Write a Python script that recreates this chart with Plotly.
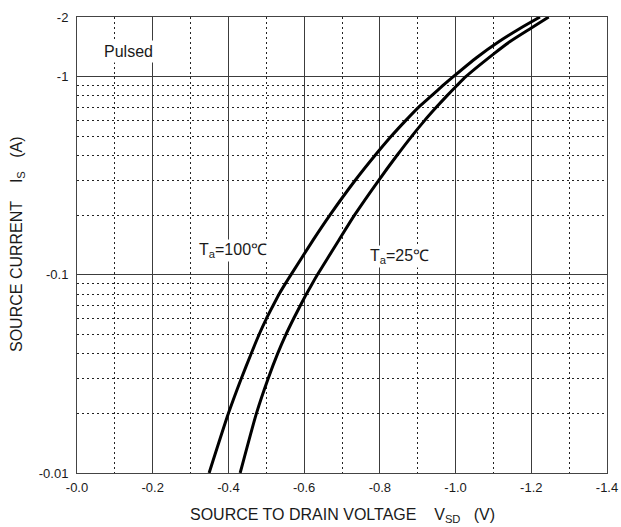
import math
import plotly.graph_objects as go

# ---- data ----
# source current magnitude |Is| (A) and source-drain voltage VSD (V, negative as on the chart)
is_100 = [0.01, 0.02, 0.03, 0.04, 0.05, 0.06, 0.07, 0.08, 0.09, 0.1,
          0.15, 0.2, 0.3, 0.4, 0.5, 0.6, 0.7, 0.8, 0.9, 1.0, 1.25, 1.5, 1.75, 2.0]
vsd_100 = [-0.349, -0.400, -0.434, -0.460, -0.481, -0.500, -0.518, -0.534, -0.550, -0.565,
           -0.624, -0.668, -0.735, -0.787, -0.830, -0.868, -0.902, -0.936, -0.966, -0.994,
           -1.056, -1.114, -1.170, -1.223]

is_25 = [0.01, 0.02, 0.03, 0.04, 0.05, 0.06, 0.07, 0.08, 0.09, 0.1,
         0.15, 0.2, 0.3, 0.4, 0.5, 0.6, 0.7, 0.8, 0.9, 1.0, 1.3, 1.5, 1.76, 2.0]
vsd_25 = [-0.431, -0.474, -0.505, -0.530, -0.552, -0.572, -0.590, -0.606, -0.621, -0.635,
          -0.692, -0.733, -0.797, -0.845, -0.884, -0.918, -0.949, -0.977, -1.003, -1.027,
          -1.100, -1.143, -1.200, -1.246]

x_ticks = [0.0, -0.2, -0.4, -0.6, -0.8, -1.0, -1.2, -1.4]
x_ticktext = ["-0.0", "-0.2", "-0.4", "-0.6", "-0.8", "-1.0", "-1.2", "-1.4"]
x_minor = [-0.1, -0.3, -0.5, -0.7, -0.9, -1.1, -1.3]

y_ticks = [0.01, 0.1, 1, 2]
y_ticktext = ["-0.01", "-0.1", "-1", "-2"]
y_minor = [0.02, 0.03, 0.04, 0.05, 0.06, 0.07, 0.08, 0.09,
           0.2, 0.3, 0.4, 0.5, 0.6, 0.7, 0.8, 0.9]

FONT = "Arial, 'Liberation Sans', sans-serif"
TXT = "#1a1a1a"
NB = "\u00a0"

fig = go.Figure()
for xs, ys in ((vsd_100, is_100), (vsd_25, is_25)):
    fig.add_trace(go.Scatter(x=xs, y=ys, mode="lines",
                             line=dict(color="black", width=3, shape="spline", smoothing=0.6),
                             showlegend=False, hoverinfo="skip"))

grid_major = "#3c3c3c"
minor_style = dict(showgrid=True, gridcolor="#222222", gridwidth=1, griddash="2px,3px", ticks="")

fig.update_xaxes(range=[0, -1.4], tickmode="array", tickvals=x_ticks, ticktext=x_ticktext,
                 showgrid=True, gridcolor=grid_major, gridwidth=1, zeroline=False,
                 showline=True, mirror=True, linecolor="#444444", linewidth=1, ticks="",
                 automargin=False, ticklabelstandoff=2, ticklabeloverflow="allow",
                 tickfont=dict(family=FONT, size=13, color=TXT),
                 minor=dict(tickmode="array", tickvals=x_minor, **minor_style))
fig.update_yaxes(type="log", range=[math.log10(0.01), math.log10(2)], tickmode="array",
                 tickvals=y_ticks, ticktext=y_ticktext,
                 showgrid=True, gridcolor=grid_major, gridwidth=1, zeroline=False,
                 showline=True, mirror=True, linecolor="#444444", linewidth=1, ticks="",
                 automargin=False, ticklabelstandoff=5,
                 tickfont=dict(family=FONT, size=13, color=TXT),
                 minor=dict(tickmode="array", tickvals=y_minor, **minor_style))

annots = [
    dict(x=-0.135, y=math.log10(1.34), text="Pulsed", xref="x", yref="y",
         showarrow=False, bgcolor="white", borderpad=2,
         font=dict(family=FONT, size=16, color=TXT)),
    dict(x=-0.412, y=math.log10(0.132), text="T<sub>a</sub>=100\u2103", xref="x", yref="y",
         showarrow=False, bgcolor="white", borderpad=1,
         font=dict(family=FONT, size=16, color=TXT)),
    dict(x=-0.853, y=math.log10(0.124), text="T<sub>a</sub>=25\u2103", xref="x", yref="y",
         showarrow=False, bgcolor="white", borderpad=1,
         font=dict(family=FONT, size=16, color=TXT)),
    dict(x=0.5, y=0, xref="paper", yref="paper", yanchor="middle", yshift=-42,
         text="SOURCE TO DRAIN VOLTAGE" + NB * 4 + "V<sub>SD</sub>" + NB * 3 + "(V)",
         showarrow=False, font=dict(family=FONT, size=16, color=TXT)),
    dict(x=0, y=0.5, xref="paper", yref="paper", xanchor="center", xshift=-60,
         textangle=-90,
         text="SOURCE CURRENT" + NB * 4 + "I<sub>S</sub>" + NB * 3 + "(A)",
         showarrow=False, font=dict(family=FONT, size=16, color=TXT)),
]

fig.update_layout(width=621, height=527,
                  margin=dict(l=77, r=14, t=17, b=54, pad=0, autoexpand=False),
                  plot_bgcolor="white", paper_bgcolor="white",
                  font=dict(family=FONT, color=TXT),
                  annotations=annots, showlegend=False, hovermode=False)

# remove the page's default 8px body margin so the figure fills the window exactly
fig.write_html("out.html",
               config={"displayModeBar": False, "staticPlot": True},
               post_script="document.body.style.margin='0';document.body.style.overflow='hidden';")
